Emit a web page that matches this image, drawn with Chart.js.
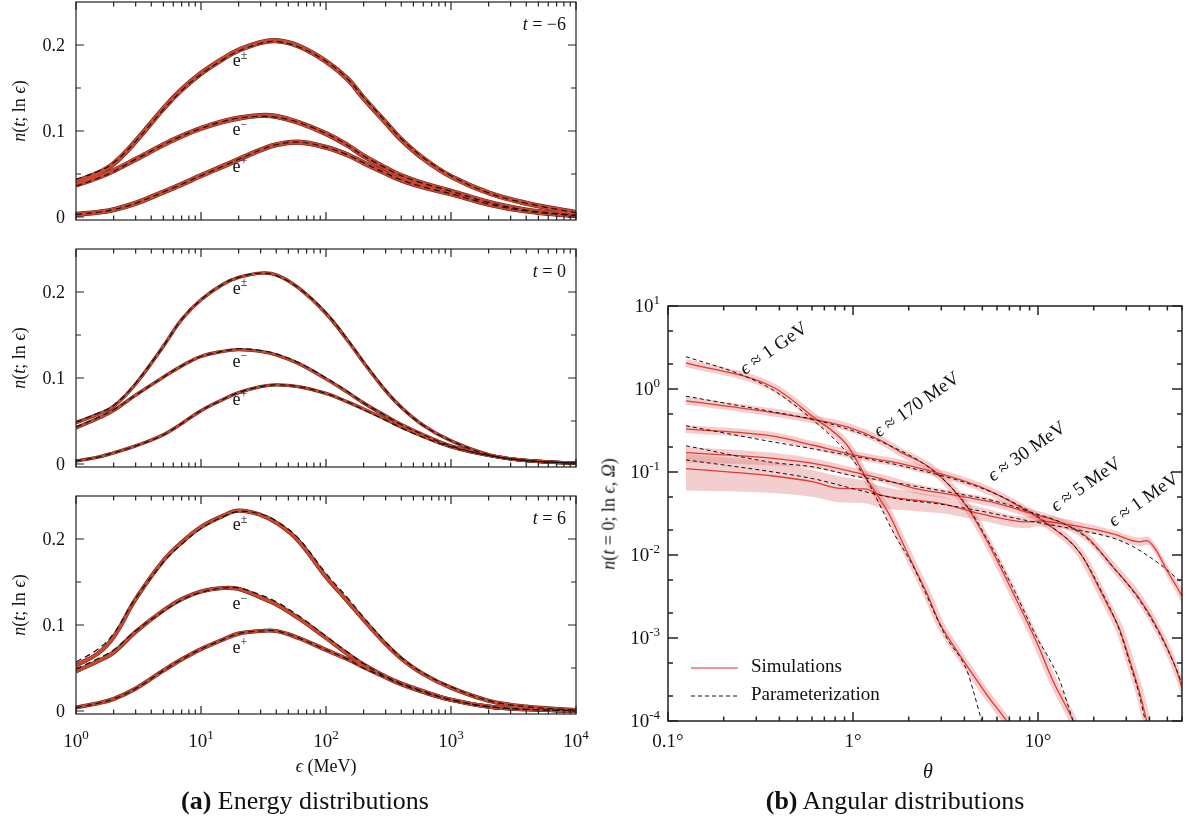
<!DOCTYPE html>
<html>
<head>
<meta charset="utf-8">
<script src="https://cdn.jsdelivr.net/npm/chart.js@4.4.1/dist/chart.umd.min.js"></script>
<style>
  body { margin: 0; background: #fff; }
  #page { position: relative; width: 1188px; height: 821px; overflow: hidden; font-family: "Liberation Serif", serif; color: #111; }
  canvas { position: absolute; left: 0; top: 0; }
  .t { position: absolute; white-space: nowrap; transform: translate(-50%, -50%); }
  .rot { transform: translate(-50%, -50%) rotate(-90deg); }
</style>
</head>
<body>
<div id="page">
  <canvas id="p1" width="1188" height="821"></canvas>
  <canvas id="p2" width="1188" height="821"></canvas>
  <canvas id="p3" width="1188" height="821"></canvas>
  <canvas id="p4" width="1188" height="821"></canvas>

  <div class="t rot" style="left:19px;top:111px;font-size:18px"><i>n</i>(<i>t</i>; ln <i>ϵ</i>)</div>
  <div class="t rot" style="left:19px;top:358px;font-size:18px"><i>n</i>(<i>t</i>; ln <i>ϵ</i>)</div>
  <div class="t rot" style="left:19px;top:605px;font-size:18px"><i>n</i>(<i>t</i>; ln <i>ϵ</i>)</div>
  <div class="t" style="left:326px;top:766px;font-size:18px"><i>ϵ</i> (MeV)</div>
  <div class="t" style="left:305px;top:801px;font-size:26px"><b>(a)</b> Energy distributions</div>

  <div class="t rot" style="left:609px;top:514px;font-size:18px"><i>n</i>(<i>t</i> = 0; ln <i>ϵ</i>, <i>Ω</i>)</div>
  <div class="t" style="left:928px;top:771px;font-size:20px"><i>θ</i></div>
  <div class="t" style="left:895px;top:801px;font-size:26px"><b>(b)</b> Angular distributions</div>
</div>

<script>
// ---------- energy distributions (MeV) ----------
const energy = [1, 1.5, 2, 3, 5, 7, 10, 15, 20, 30, 40, 60, 100, 150, 200, 300, 400, 600, 1000, 2000, 4000, 10000];

// t = -6
const simA_pm = [0.041, 0.051, 0.062, 0.088, 0.126, 0.148, 0.167, 0.184, 0.194, 0.203, 0.205, 0.199, 0.181, 0.160, 0.138, 0.110, 0.090, 0.068, 0.047, 0.028, 0.016, 0.005];
const parA_pm = [0.044, 0.053, 0.063, 0.088, 0.125, 0.147, 0.166, 0.183, 0.193, 0.202, 0.204, 0.198, 0.181, 0.160, 0.139, 0.111, 0.091, 0.069, 0.048, 0.028, 0.016, 0.005];
const simA_m  = [0.037, 0.046, 0.054, 0.067, 0.084, 0.094, 0.103, 0.111, 0.115, 0.118, 0.117, 0.110, 0.097, 0.083, 0.071, 0.057, 0.048, 0.039, 0.030, 0.017, 0.008, 0.002];
const parA_m  = [0.036, 0.045, 0.053, 0.067, 0.084, 0.094, 0.103, 0.111, 0.115, 0.117, 0.116, 0.110, 0.097, 0.083, 0.071, 0.057, 0.048, 0.039, 0.030, 0.017, 0.008, 0.002];
const simA_p  = [0.003, 0.0055, 0.0085, 0.016, 0.029, 0.038, 0.048, 0.059, 0.067, 0.078, 0.084, 0.087, 0.081, 0.072, 0.063, 0.051, 0.043, 0.035, 0.027, 0.015, 0.007, 0.0015];
const parA_p  = [0.003, 0.0055, 0.0085, 0.016, 0.029, 0.038, 0.048, 0.059, 0.067, 0.078, 0.084, 0.087, 0.081, 0.072, 0.063, 0.051, 0.043, 0.035, 0.027, 0.015, 0.007, 0.0015];

// t = 0
const simB_pm = [0.048, 0.058, 0.067, 0.093, 0.137, 0.168, 0.191, 0.209, 0.217, 0.222, 0.220, 0.205, 0.175, 0.143, 0.118, 0.085, 0.066, 0.045, 0.027, 0.011, 0.004, 0.001];
const parB_pm = [0.049, 0.059, 0.068, 0.094, 0.137, 0.168, 0.191, 0.209, 0.217, 0.222, 0.219, 0.205, 0.176, 0.144, 0.119, 0.086, 0.066, 0.045, 0.027, 0.011, 0.004, 0.001];
const simB_m  = [0.042, 0.053, 0.062, 0.080, 0.101, 0.114, 0.125, 0.131, 0.133, 0.131, 0.127, 0.117, 0.099, 0.083, 0.071, 0.056, 0.046, 0.034, 0.021, 0.010, 0.004, 0.0008];
const parB_m  = [0.043, 0.054, 0.063, 0.080, 0.101, 0.114, 0.125, 0.131, 0.134, 0.132, 0.128, 0.118, 0.100, 0.084, 0.071, 0.056, 0.046, 0.034, 0.021, 0.010, 0.004, 0.0008];
const simB_p  = [0.0035, 0.008, 0.013, 0.021, 0.034, 0.047, 0.062, 0.075, 0.083, 0.090, 0.092, 0.090, 0.082, 0.072, 0.064, 0.052, 0.043, 0.032, 0.020, 0.010, 0.004, 0.0008];
const parB_p  = [0.0035, 0.008, 0.013, 0.021, 0.034, 0.047, 0.062, 0.075, 0.083, 0.090, 0.092, 0.090, 0.082, 0.072, 0.063, 0.051, 0.042, 0.031, 0.020, 0.010, 0.004, 0.0008];

// t = 6
const simC_pm = [0.053, 0.067, 0.086, 0.130, 0.175, 0.196, 0.214, 0.227, 0.233, 0.228, 0.219, 0.198, 0.156, 0.127, 0.106, 0.078, 0.061, 0.043, 0.027, 0.012, 0.005, 0.001];
const parC_pm = [0.057, 0.072, 0.090, 0.131, 0.173, 0.194, 0.212, 0.226, 0.232, 0.229, 0.221, 0.201, 0.160, 0.131, 0.109, 0.080, 0.062, 0.044, 0.028, 0.012, 0.005, 0.001];
const simC_m  = [0.046, 0.058, 0.068, 0.092, 0.117, 0.130, 0.139, 0.143, 0.142, 0.132, 0.124, 0.108, 0.085, 0.066, 0.054, 0.040, 0.032, 0.023, 0.013, 0.005, 0.002, 0.0003];
const parC_m  = [0.049, 0.061, 0.071, 0.093, 0.116, 0.129, 0.138, 0.143, 0.143, 0.135, 0.127, 0.111, 0.087, 0.068, 0.055, 0.040, 0.032, 0.023, 0.013, 0.005, 0.002, 0.0003];
const simC_p  = [0.004, 0.009, 0.014, 0.026, 0.047, 0.060, 0.072, 0.083, 0.090, 0.093, 0.093, 0.085, 0.071, 0.060, 0.051, 0.039, 0.031, 0.022, 0.013, 0.005, 0.002, 0.0003];
const parC_p  = [0.004, 0.009, 0.014, 0.026, 0.047, 0.060, 0.072, 0.083, 0.090, 0.093, 0.093, 0.085, 0.071, 0.060, 0.050, 0.039, 0.031, 0.022, 0.013, 0.005, 0.002, 0.0003];

const speciesNames = ['±', '−', '+'];
const speciesLabelE = 20.5;
const labelY_A = [0.183, 0.103, 0.060];
const labelY_B = [0.206, 0.121, 0.076];
const labelY_C = [0.218, 0.126, 0.075];

const nTicks = [0, 0.1, 0.2];
const nTickLabels = ['0', '0.1', '0.2'];
const nMinorTicks = [0.05, 0.15];
const energyTicks = [1, 10, 100, 1000, 10000];
const energyTickExp = ['0', '1', '2', '3', '4'];

// ---------- angular distributions (t = 0) ----------
const thGeV  = [0.125, 0.37, 0.61, 0.93, 1.19, 1.58, 1.79, 2.05, 2.5, 2.95, 3.25, 4.28, 5.35, 6.76, 7.5];
const simGeV = [2.07, 1.05, 0.46, 0.21, 0.082, 0.030, 0.0166, 0.0087, 0.0035, 0.00148, 0.00103, 0.00041, 0.0002, 0.0001, 0.00007];
const parThGeV = [0.125, 0.25, 0.37, 0.61, 0.93, 1.19, 1.68, 2.07, 3.17, 4.12, 4.55, 4.97, 5.3];
const parGeV   = [2.45, 1.48, 0.97, 0.42, 0.17, 0.079, 0.0175, 0.0080, 0.00105, 0.00041, 0.0002, 0.0001, 0.00007];

const th170  = [0.125, 0.371, 0.61, 0.93, 1.4, 1.79, 2.71, 4.13, 5.5, 7.33, 9.88, 12.0, 15.5, 17];
const sim170 = [0.72, 0.52, 0.43, 0.35, 0.243, 0.176, 0.106, 0.038, 0.0126, 0.0035, 0.00087, 0.00031, 0.0001, 0.00006];
const parTh170 = [0.125, 0.371, 0.61, 0.93, 1.4, 2.71, 4.13, 5.5, 7.33, 9.88, 11.3, 13, 15.5, 16.5];
const par170   = [0.82, 0.53, 0.43, 0.33, 0.235, 0.104, 0.039, 0.0135, 0.0040, 0.0010, 0.00060, 0.00032, 0.0001, 0.00007];

const th30  = [0.125, 0.371, 0.61, 0.93, 1.4, 1.79, 4.85, 8.0, 11.1, 16.9, 21.6, 24, 27.7, 31.3, 35, 38.7, 42];
const sim30 = [0.33, 0.27, 0.21, 0.168, 0.14, 0.127, 0.0665, 0.038, 0.024, 0.0105, 0.0038, 0.0024, 0.00125, 0.00054, 0.00024, 0.0001, 0.00005];
const parTh30 = [0.125, 0.371, 0.61, 0.93, 1.79, 4.85, 8.0, 11.1, 16.9, 21.6, 27.7, 31.3, 35, 38, 41];
const par30   = [0.36, 0.23, 0.19, 0.16, 0.12, 0.065, 0.039, 0.0245, 0.0105, 0.0040, 0.0012, 0.00050, 0.00022, 0.0001, 0.00005];

const th5  = [0.125, 0.371, 0.61, 1.05, 1.4, 2.12, 3.63, 6.0, 9.06, 13.7, 18.3, 25.4, 35.6, 45.6, 56, 60];
const sim5 = [0.171, 0.146, 0.127, 0.098, 0.084, 0.064, 0.052, 0.042, 0.032, 0.024, 0.0166, 0.0072, 0.0029, 0.00115, 0.00041, 0.00025];
const hi5  = [0.20, 0.17, 0.145, 0.11, 0.095, 0.073, 0.058, 0.047, 0.036, 0.027, 0.019, 0.0085, 0.0035, 0.0014, 0.00052, 0.00032];
const lo5  = [0.13, 0.12, 0.11, 0.087, 0.075, 0.056, 0.046, 0.037, 0.028, 0.021, 0.0145, 0.0062, 0.0024, 0.00092, 0.00031, 0.00019];
const par5 = [0.207, 0.13, 0.115, 0.088, 0.080, 0.068, 0.055, 0.044, 0.033, 0.024, 0.016, 0.0072, 0.0028, 0.0011, 0.00042, 0.00028];

const th1  = [0.125, 0.371, 0.61, 0.85, 1.16, 1.4, 2.12, 2.96, 4.85, 8.7, 10, 16.9, 25.4, 35.6, 38.7, 43.5, 49.6, 56, 60];
const sim1 = [0.11, 0.0895, 0.076, 0.0635, 0.0625, 0.053, 0.046, 0.042, 0.0316, 0.025, 0.0255, 0.022, 0.018, 0.0144, 0.0149, 0.0114, 0.0066, 0.0042, 0.0032];
const hi1  = [0.165, 0.13, 0.105, 0.088, 0.078, 0.068, 0.058, 0.051, 0.038, 0.029, 0.030, 0.025, 0.020, 0.0162, 0.0168, 0.0130, 0.0078, 0.0050, 0.0040];
const lo1  = [0.06, 0.056, 0.050, 0.043, 0.042, 0.037, 0.034, 0.032, 0.026, 0.021, 0.022, 0.019, 0.016, 0.0128, 0.0133, 0.0099, 0.0056, 0.0035, 0.0026];
const parTh1 = [0.125, 0.371, 0.61, 1.16, 1.79, 2.96, 4.85, 8.7, 16.9, 25.4, 32.7, 40, 47.6, 60];
const par1   = [0.14, 0.10, 0.083, 0.058, 0.047, 0.041, 0.034, 0.026, 0.0198, 0.0160, 0.0126, 0.0095, 0.0072, 0.0046];

const energyNames = ['1 GeV', '170 MeV', '30 MeV', '5 MeV', '1 MeV'];
const energyNameTh = [0.374, 2.22, 8.73, 18.2, 37.4];
const energyNameN  = [3.05, 0.64, 0.174, 0.0697, 0.046];

const thetaTicks = [0.1, 1, 10];
const thetaTickLabels = ['0.1°', '1°', '10°'];
const nDecades = [10, 1, 0.1, 0.01, 0.001, 0.0001];
const nDecadeExp = ['1', '0', '-1', '-2', '-3', '-4'];

// ---------- helpers ----------
const RED = '#cc4630', DARK = '#5c2619', SIMRED = '#e8372c', PINK = 'rgba(222,120,120,0.36)';
const F = '"Liberation Serif", "DejaVu Serif", serif';
const pts = (xs, ys) => xs.map((x, i) => ({ x, y: ys[i] }));

function logMinors(from, to) {
  const out = [];
  for (let d = from; d < to; d *= 10) for (let k = 2; k <= 9; k++) if (d * k < to * 1.0001) out.push(d * k);
  return out;
}

function sup(ctx, base, exp, x, y, align, size, esize, rise) {
  ctx.font = size + 'px ' + F;
  const wb = ctx.measureText(base).width;
  ctx.font = esize + 'px ' + F;
  const we = ctx.measureText(exp).width;
  let x0 = x;
  if (align === 'right') x0 = x - wb - we;
  if (align === 'center') x0 = x - (wb + we) / 2;
  ctx.textAlign = 'left';
  ctx.font = size + 'px ' + F;
  ctx.fillText(base, x0, y);
  ctx.font = esize + 'px ' + F;
  ctx.fillText(exp, x0 + wb, y - rise);
}

function framePlugin(spec) {
  return {
    id: 'frame',
    afterDatasetsDraw(chart) {
      const { ctx, chartArea: a } = chart;
      const xs = chart.scales.x, ys = chart.scales.y;
      ctx.save();
      ctx.strokeStyle = '#222';
      ctx.lineWidth = spec.lw;
      ctx.beginPath();
      spec.xTicks.forEach(([v, len]) => {
        const p = xs.getPixelForValue(v);
        ctx.moveTo(p, a.bottom); ctx.lineTo(p, a.bottom - len);
        ctx.moveTo(p, a.top); ctx.lineTo(p, a.top + len);
      });
      spec.yTicks.forEach(([v, len]) => {
        const p = ys.getPixelForValue(v);
        ctx.moveTo(a.left, p); ctx.lineTo(a.left + len, p);
        ctx.moveTo(a.right, p); ctx.lineTo(a.right - len, p);
      });
      ctx.stroke();
      ctx.strokeRect(a.left, a.top, a.right - a.left, a.bottom - a.top);
      ctx.fillStyle = '#111';
      ctx.textBaseline = 'alphabetic';
      spec.labels(ctx, xs, ys, a);
      ctx.restore();
    }
  };
}

const baseOptions = (xs, ys, pad, line) => ({
  responsive: false,
  animation: false,
  devicePixelRatio: 1,
  layout: { padding: pad },
  events: [],
  elements: { point: { radius: 0 }, line: Object.assign({ fill: false }, line) },
  plugins: { legend: { display: false }, tooltip: { enabled: false } },
  scales: { x: Object.assign({ display: false }, xs), y: Object.assign({ display: false }, ys) }
});

// ---------- energy panels ----------
function energyPanel(id, top, bottom, sims, pars, w, tText, labelY, withX) {
  const ds = [];
  sims.forEach((s, i) => {
    ds.push({ data: pts(energy, pars[i]), borderColor: '#111', borderWidth: 1.2, borderDash: [6, 4], order: 0 });
    ds.push({ data: pts(energy, s), borderColor: RED, borderWidth: w, order: 1 });
    ds.push({ data: pts(energy, s), borderColor: DARK, borderWidth: w + 1, order: 2 });
  });
  const xTicks = energyTicks.map(v => [v, 8]).concat(logMinors(1, 10000).map(v => [v, 4.5]));
  const yTicks = nTicks.map(v => [v, 8]).concat(nMinorTicks.map(v => [v, 5]));
  const plugin = framePlugin({
    lw: 1.2, xTicks, yTicks,
    labels(ctx, xs, ys, a) {
      ctx.textBaseline = 'middle';
      ctx.textAlign = 'right';
      ctx.font = '18px ' + F;
      nTicks.forEach((v, i) => ctx.fillText(nTickLabels[i], a.left - 11, ys.getPixelForValue(v) + 1));
      ctx.textBaseline = 'alphabetic';
      if (withX) {
        energyTicks.forEach((v, i) => sup(ctx, '10', energyTickExp[i], xs.getPixelForValue(v), a.bottom + 33, 'center', 19, 13, 8));
      }
      // t label
      ctx.font = '18px ' + F;
      const rest = ' = ' + tText;
      const wr = ctx.measureText(rest).width;
      ctx.textAlign = 'right';
      ctx.fillText(rest, a.right - 10, a.top + 28);
      ctx.font = 'italic 18px ' + F;
      ctx.fillText('t', a.right - 10 - wr, a.top + 28);
      // species labels
      ctx.textBaseline = 'middle';
      speciesNames.forEach((s, i) => {
        const px = xs.getPixelForValue(speciesLabelE), py = ys.getPixelForValue(labelY[i]);
        sup(ctx, 'e', s, px, py + 2, 'center', 18, 12, 6);
      });
    }
  });
  new Chart(document.getElementById(id), {
    type: 'line',
    data: { datasets: ds },
    options: baseOptions({ type: 'logarithmic', min: 1, max: 10000 }, { type: 'linear', min: -0.0035, max: 0.25 },
      { left: 76, right: 1188 - 576, top: top, bottom: 821 - bottom }, { tension: 0.4 }),
    plugins: [plugin]
  });
}

energyPanel('p1', 2, 220, [simA_pm, simA_m, simA_p], [parA_pm, parA_m, parA_p], 4.2, '−6', labelY_A, false);
energyPanel('p2', 249, 467, [simB_pm, simB_m, simB_p], [parB_pm, parB_m, parB_p], 2.4, '0', labelY_B, false);
energyPanel('p3', 496, 714, [simC_pm, simC_m, simC_p], [parC_pm, parC_m, parC_p], 3.2, '6', labelY_C, true);

// ---------- angular panel ----------
const angDs = [];
function addCurve(th, sim, pth, par) {
  angDs.push({ data: pts(pth, par), borderColor: '#111', borderWidth: 1, borderDash: [4, 3], order: 0 });
  angDs.push({ data: pts(th, sim), borderColor: SIMRED, borderWidth: 1.3, order: 1 });
}
function addBand(th, hi, lo) {
  angDs.push({ data: pts(th, hi), borderWidth: 0, borderColor: 'rgba(0,0,0,0)', backgroundColor: PINK, fill: '+1', order: 3 });
  angDs.push({ data: pts(th, lo), borderWidth: 0, borderColor: 'rgba(0,0,0,0)', order: 3 });
}
addCurve(thGeV, simGeV, parThGeV, parGeV);
addCurve(th170, sim170, parTh170, par170);
addCurve(th30, sim30, parTh30, par30);
addCurve(th5, sim5, th5, par5);
addCurve(th1, sim1, parTh1, par1);
[[thGeV, simGeV], [th170, sim170], [th30, sim30]].forEach(([t, s]) =>
  angDs.push({ data: pts(t, s), borderColor: PINK, borderWidth: 8, order: 2 }));
addBand(th5, hi5, lo5);
addBand(th1, hi1, lo1);

const angPlugin = framePlugin({
  lw: 1.5,
  xTicks: thetaTicks.map(v => [v, 9]).concat(logMinors(0.1, 60).map(v => [v, 4.5])),
  yTicks: nDecades.map(v => [v, 10]).concat(nDecades.slice(1).flatMap(d => [d * 2, d * 5]).map(v => [v, 5])),
  labels(ctx, xs, ys, a) {
    ctx.font = '19px ' + F;
    ctx.textAlign = 'center';
    thetaTicks.forEach((v, i) => ctx.fillText(thetaTickLabels[i], xs.getPixelForValue(v), a.bottom + 26));
    nDecades.forEach((v, i) => sup(ctx, '10', nDecadeExp[i], a.left - 8, ys.getPixelForValue(v) + 6, 'right', 19, 13, 8));
    // curve labels
    ctx.textBaseline = 'middle';
    energyNames.forEach((name, i) => {
      const px = xs.getPixelForValue(energyNameTh[i]), py = ys.getPixelForValue(energyNameN[i]);
      ctx.save();
      ctx.translate(px, py);
      ctx.rotate(-35 * Math.PI / 180);
      ctx.font = 'italic 19px ' + F;
      const w1 = ctx.measureText('ϵ').width;
      ctx.font = '19px ' + F;
      const rest = ' ≈ ' + name;
      const w2 = ctx.measureText(rest).width;
      const x0 = -(w1 + w2) / 2;
      ctx.textAlign = 'left';
      ctx.font = 'italic 19px ' + F;
      ctx.fillText('ϵ', x0, 0);
      ctx.font = '19px ' + F;
      ctx.fillText(rest, x0 + w1, 0);
      ctx.restore();
    });
    // legend
    ctx.lineWidth = 1.3;
    ctx.strokeStyle = '#f07070';
    ctx.beginPath(); ctx.moveTo(691, 668); ctx.lineTo(738, 668); ctx.stroke();
    ctx.strokeStyle = '#111';
    ctx.lineWidth = 1;
    ctx.setLineDash([4, 3]);
    ctx.beginPath(); ctx.moveTo(691, 696); ctx.lineTo(738, 696); ctx.stroke();
    ctx.setLineDash([]);
    ctx.font = '19px ' + F;
    ctx.textAlign = 'left';
    ctx.fillText('Simulations', 751, 667);
    ctx.fillText('Parameterization', 751, 695);
  }
});

new Chart(document.getElementById('p4'), {
  type: 'line',
  data: { datasets: angDs },
  options: baseOptions({ type: 'logarithmic', min: 0.1, max: 60 }, { type: 'logarithmic', min: 0.0001, max: 10 },
    { left: 668, right: 1188 - 1182, top: 306, bottom: 821 - 721 }, { cubicInterpolationMode: 'monotone' }),
  plugins: [angPlugin]
});
</script>
</body>
</html>
